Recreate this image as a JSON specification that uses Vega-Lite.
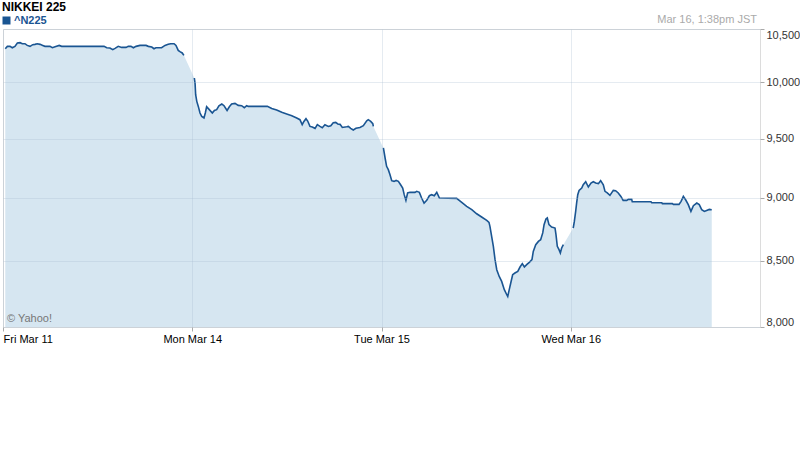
{
  "$schema": "https://vega.github.io/schema/vega-lite/v6.json",
  "autosize": "none",
  "padding": {"left": 3, "top": 29, "right": 40, "bottom": 148},
  "width": 757,
  "height": 298,
  "background": "white",
  "config": {
    "font": "Liberation Sans",
    "view": {"stroke": "#dcdcdc", "strokeWidth": 1}
  },
  "title": {
    "text": "NIKKEI 225",
    "anchor": "start",
    "frame": "group",
    "dx": -1,
    "offset": 0,
    "font": "Liberation Sans",
    "fontSize": 12,
    "fontWeight": "bold",
    "color": "#000000"
  },
  "data": {
    "values": [
      {"day": "Fri", "t": 0.012, "close": 10313},
      {"day": "Fri", "t": 0.023, "close": 10335},
      {"day": "Fri", "t": 0.037, "close": 10335},
      {"day": "Fri", "t": 0.049, "close": 10322},
      {"day": "Fri", "t": 0.063, "close": 10335},
      {"day": "Fri", "t": 0.076, "close": 10367},
      {"day": "Fri", "t": 0.090, "close": 10370},
      {"day": "Fri", "t": 0.102, "close": 10360},
      {"day": "Fri", "t": 0.116, "close": 10360},
      {"day": "Fri", "t": 0.128, "close": 10344},
      {"day": "Fri", "t": 0.143, "close": 10335},
      {"day": "Fri", "t": 0.157, "close": 10351},
      {"day": "Fri", "t": 0.169, "close": 10354},
      {"day": "Fri", "t": 0.181, "close": 10360},
      {"day": "Fri", "t": 0.196, "close": 10354},
      {"day": "Fri", "t": 0.210, "close": 10344},
      {"day": "Fri", "t": 0.222, "close": 10335},
      {"day": "Fri", "t": 0.248, "close": 10335},
      {"day": "Fri", "t": 0.261, "close": 10322},
      {"day": "Fri", "t": 0.275, "close": 10332},
      {"day": "Fri", "t": 0.297, "close": 10344},
      {"day": "Fri", "t": 0.310, "close": 10335},
      {"day": "Fri", "t": 0.534, "close": 10335},
      {"day": "Fri", "t": 0.548, "close": 10322},
      {"day": "Fri", "t": 0.565, "close": 10320},
      {"day": "Fri", "t": 0.580, "close": 10304},
      {"day": "Fri", "t": 0.592, "close": 10316},
      {"day": "Fri", "t": 0.609, "close": 10335},
      {"day": "Fri", "t": 0.627, "close": 10325},
      {"day": "Fri", "t": 0.650, "close": 10325},
      {"day": "Fri", "t": 0.662, "close": 10335},
      {"day": "Fri", "t": 0.676, "close": 10335},
      {"day": "Fri", "t": 0.689, "close": 10322},
      {"day": "Fri", "t": 0.703, "close": 10335},
      {"day": "Fri", "t": 0.724, "close": 10344},
      {"day": "Fri", "t": 0.756, "close": 10344},
      {"day": "Fri", "t": 0.768, "close": 10335},
      {"day": "Fri", "t": 0.786, "close": 10329},
      {"day": "Fri", "t": 0.798, "close": 10313},
      {"day": "Fri", "t": 0.808, "close": 10322},
      {"day": "Fri", "t": 0.838, "close": 10322},
      {"day": "Fri", "t": 0.856, "close": 10344},
      {"day": "Fri", "t": 0.873, "close": 10354},
      {"day": "Fri", "t": 0.886, "close": 10360},
      {"day": "Fri", "t": 0.904, "close": 10360},
      {"day": "Fri", "t": 0.914, "close": 10344},
      {"day": "Fri", "t": 0.926, "close": 10297},
      {"day": "Fri", "t": 0.935, "close": 10285},
      {"day": "Fri", "t": 0.947, "close": 10273},
      {"day": "Fri", "t": 0.956, "close": 10250},
      {"day": "Mon", "t": 1.011, "close": 10041},
      {"day": "Mon", "t": 1.015, "close": 9989},
      {"day": "Mon", "t": 1.018, "close": 9889},
      {"day": "Mon", "t": 1.024, "close": 9829},
      {"day": "Mon", "t": 1.032, "close": 9784},
      {"day": "Mon", "t": 1.041, "close": 9725},
      {"day": "Mon", "t": 1.050, "close": 9695},
      {"day": "Mon", "t": 1.062, "close": 9681},
      {"day": "Mon", "t": 1.069, "close": 9725},
      {"day": "Mon", "t": 1.076, "close": 9781},
      {"day": "Mon", "t": 1.090, "close": 9755},
      {"day": "Mon", "t": 1.106, "close": 9725},
      {"day": "Mon", "t": 1.117, "close": 9748},
      {"day": "Mon", "t": 1.129, "close": 9755},
      {"day": "Mon", "t": 1.141, "close": 9790},
      {"day": "Mon", "t": 1.156, "close": 9805},
      {"day": "Mon", "t": 1.168, "close": 9790},
      {"day": "Mon", "t": 1.184, "close": 9748},
      {"day": "Mon", "t": 1.196, "close": 9781},
      {"day": "Mon", "t": 1.208, "close": 9805},
      {"day": "Mon", "t": 1.226, "close": 9811},
      {"day": "Mon", "t": 1.243, "close": 9793},
      {"day": "Mon", "t": 1.261, "close": 9790},
      {"day": "Mon", "t": 1.275, "close": 9772},
      {"day": "Mon", "t": 1.288, "close": 9790},
      {"day": "Mon", "t": 1.296, "close": 9784},
      {"day": "Mon", "t": 1.397, "close": 9784},
      {"day": "Mon", "t": 1.420, "close": 9766},
      {"day": "Mon", "t": 1.446, "close": 9752},
      {"day": "Mon", "t": 1.473, "close": 9731},
      {"day": "Mon", "t": 1.499, "close": 9716},
      {"day": "Mon", "t": 1.526, "close": 9701},
      {"day": "Mon", "t": 1.552, "close": 9681},
      {"day": "Mon", "t": 1.569, "close": 9666},
      {"day": "Mon", "t": 1.581, "close": 9622},
      {"day": "Mon", "t": 1.590, "close": 9651},
      {"day": "Mon", "t": 1.601, "close": 9675},
      {"day": "Mon", "t": 1.610, "close": 9654},
      {"day": "Mon", "t": 1.622, "close": 9607},
      {"day": "Mon", "t": 1.634, "close": 9602},
      {"day": "Mon", "t": 1.649, "close": 9590},
      {"day": "Mon", "t": 1.661, "close": 9622},
      {"day": "Mon", "t": 1.675, "close": 9607},
      {"day": "Mon", "t": 1.687, "close": 9596},
      {"day": "Mon", "t": 1.701, "close": 9622},
      {"day": "Mon", "t": 1.719, "close": 9607},
      {"day": "Mon", "t": 1.732, "close": 9613},
      {"day": "Mon", "t": 1.745, "close": 9640},
      {"day": "Mon", "t": 1.758, "close": 9642},
      {"day": "Mon", "t": 1.769, "close": 9628},
      {"day": "Mon", "t": 1.781, "close": 9625},
      {"day": "Mon", "t": 1.793, "close": 9598},
      {"day": "Mon", "t": 1.816, "close": 9604},
      {"day": "Mon", "t": 1.825, "close": 9607},
      {"day": "Mon", "t": 1.837, "close": 9590},
      {"day": "Mon", "t": 1.851, "close": 9576},
      {"day": "Mon", "t": 1.865, "close": 9590},
      {"day": "Mon", "t": 1.886, "close": 9598},
      {"day": "Mon", "t": 1.904, "close": 9613},
      {"day": "Mon", "t": 1.922, "close": 9657},
      {"day": "Mon", "t": 1.930, "close": 9666},
      {"day": "Mon", "t": 1.943, "close": 9651},
      {"day": "Mon", "t": 1.954, "close": 9631},
      {"day": "Mon", "t": 1.957, "close": 9607},
      {"day": "Tue", "t": 2.010, "close": 9420},
      {"day": "Tue", "t": 2.019, "close": 9334},
      {"day": "Tue", "t": 2.027, "close": 9263},
      {"day": "Tue", "t": 2.036, "close": 9235},
      {"day": "Tue", "t": 2.045, "close": 9193},
      {"day": "Tue", "t": 2.054, "close": 9143},
      {"day": "Tue", "t": 2.066, "close": 9137},
      {"day": "Tue", "t": 2.077, "close": 9145},
      {"day": "Tue", "t": 2.089, "close": 9137},
      {"day": "Tue", "t": 2.101, "close": 9109},
      {"day": "Tue", "t": 2.112, "close": 9082},
      {"day": "Tue", "t": 2.120, "close": 9027},
      {"day": "Tue", "t": 2.129, "close": 8980},
      {"day": "Tue", "t": 2.138, "close": 9041},
      {"day": "Tue", "t": 2.151, "close": 9046},
      {"day": "Tue", "t": 2.177, "close": 9046},
      {"day": "Tue", "t": 2.186, "close": 9054},
      {"day": "Tue", "t": 2.200, "close": 9046},
      {"day": "Tue", "t": 2.212, "close": 8999},
      {"day": "Tue", "t": 2.225, "close": 8958},
      {"day": "Tue", "t": 2.239, "close": 8980},
      {"day": "Tue", "t": 2.253, "close": 9018},
      {"day": "Tue", "t": 2.265, "close": 9027},
      {"day": "Tue", "t": 2.279, "close": 9018},
      {"day": "Tue", "t": 2.292, "close": 9046},
      {"day": "Tue", "t": 2.306, "close": 8999},
      {"day": "Tue", "t": 2.397, "close": 8996},
      {"day": "Tue", "t": 2.424, "close": 8963},
      {"day": "Tue", "t": 2.450, "close": 8931},
      {"day": "Tue", "t": 2.477, "close": 8904},
      {"day": "Tue", "t": 2.503, "close": 8871},
      {"day": "Tue", "t": 2.529, "close": 8845},
      {"day": "Tue", "t": 2.556, "close": 8817},
      {"day": "Tue", "t": 2.568, "close": 8801},
      {"day": "Tue", "t": 2.573, "close": 8769},
      {"day": "Tue", "t": 2.582, "close": 8689},
      {"day": "Tue", "t": 2.591, "close": 8611},
      {"day": "Tue", "t": 2.600, "close": 8507},
      {"day": "Tue", "t": 2.609, "close": 8429},
      {"day": "Tue", "t": 2.622, "close": 8378},
      {"day": "Tue", "t": 2.635, "close": 8340},
      {"day": "Tue", "t": 2.649, "close": 8277},
      {"day": "Tue", "t": 2.662, "close": 8239},
      {"day": "Tue", "t": 2.667, "close": 8226},
      {"day": "Tue", "t": 2.675, "close": 8277},
      {"day": "Tue", "t": 2.683, "close": 8328},
      {"day": "Tue", "t": 2.693, "close": 8391},
      {"day": "Tue", "t": 2.705, "close": 8404},
      {"day": "Tue", "t": 2.720, "close": 8416},
      {"day": "Tue", "t": 2.732, "close": 8450},
      {"day": "Tue", "t": 2.744, "close": 8476},
      {"day": "Tue", "t": 2.755, "close": 8450},
      {"day": "Tue", "t": 2.767, "close": 8468},
      {"day": "Tue", "t": 2.781, "close": 8486},
      {"day": "Tue", "t": 2.795, "close": 8507},
      {"day": "Tue", "t": 2.802, "close": 8571},
      {"day": "Tue", "t": 2.815, "close": 8624},
      {"day": "Tue", "t": 2.829, "close": 8650},
      {"day": "Tue", "t": 2.841, "close": 8663},
      {"day": "Tue", "t": 2.852, "close": 8717},
      {"day": "Tue", "t": 2.859, "close": 8783},
      {"day": "Tue", "t": 2.869, "close": 8829},
      {"day": "Tue", "t": 2.876, "close": 8837},
      {"day": "Tue", "t": 2.885, "close": 8783},
      {"day": "Tue", "t": 2.899, "close": 8764},
      {"day": "Tue", "t": 2.917, "close": 8756},
      {"day": "Tue", "t": 2.922, "close": 8703},
      {"day": "Tue", "t": 2.929, "close": 8611},
      {"day": "Tue", "t": 2.938, "close": 8585},
      {"day": "Tue", "t": 2.945, "close": 8559},
      {"day": "Tue", "t": 2.952, "close": 8598},
      {"day": "Tue", "t": 2.961, "close": 8624},
      {"day": "Wed", "t": 3.013, "close": 8756},
      {"day": "Wed", "t": 3.019, "close": 8809},
      {"day": "Wed", "t": 3.026, "close": 8890},
      {"day": "Wed", "t": 3.031, "close": 8958},
      {"day": "Wed", "t": 3.037, "close": 9027},
      {"day": "Wed", "t": 3.044, "close": 9062},
      {"day": "Wed", "t": 3.058, "close": 9082},
      {"day": "Wed", "t": 3.066, "close": 9109},
      {"day": "Wed", "t": 3.079, "close": 9134},
      {"day": "Wed", "t": 3.093, "close": 9090},
      {"day": "Wed", "t": 3.107, "close": 9123},
      {"day": "Wed", "t": 3.119, "close": 9134},
      {"day": "Wed", "t": 3.132, "close": 9123},
      {"day": "Wed", "t": 3.146, "close": 9118},
      {"day": "Wed", "t": 3.158, "close": 9143},
      {"day": "Wed", "t": 3.172, "close": 9109},
      {"day": "Wed", "t": 3.181, "close": 9054},
      {"day": "Wed", "t": 3.193, "close": 9041},
      {"day": "Wed", "t": 3.207, "close": 9021},
      {"day": "Wed", "t": 3.225, "close": 9062},
      {"day": "Wed", "t": 3.237, "close": 9060},
      {"day": "Wed", "t": 3.251, "close": 9041},
      {"day": "Wed", "t": 3.265, "close": 9012},
      {"day": "Wed", "t": 3.277, "close": 8980},
      {"day": "Wed", "t": 3.296, "close": 8980},
      {"day": "Wed", "t": 3.304, "close": 8988},
      {"day": "Wed", "t": 3.322, "close": 8988},
      {"day": "Wed", "t": 3.325, "close": 8969},
      {"day": "Wed", "t": 3.424, "close": 8969},
      {"day": "Wed", "t": 3.428, "close": 8961},
      {"day": "Wed", "t": 3.481, "close": 8961},
      {"day": "Wed", "t": 3.484, "close": 8953},
      {"day": "Wed", "t": 3.537, "close": 8953},
      {"day": "Wed", "t": 3.542, "close": 8947},
      {"day": "Wed", "t": 3.572, "close": 8947},
      {"day": "Wed", "t": 3.583, "close": 8972},
      {"day": "Wed", "t": 3.595, "close": 9012},
      {"day": "Wed", "t": 3.607, "close": 8985},
      {"day": "Wed", "t": 3.621, "close": 8945},
      {"day": "Wed", "t": 3.635, "close": 8890},
      {"day": "Wed", "t": 3.648, "close": 8936},
      {"day": "Wed", "t": 3.666, "close": 8958},
      {"day": "Wed", "t": 3.679, "close": 8945},
      {"day": "Wed", "t": 3.692, "close": 8904},
      {"day": "Wed", "t": 3.706, "close": 8890},
      {"day": "Wed", "t": 3.718, "close": 8898},
      {"day": "Wed", "t": 3.732, "close": 8906},
      {"day": "Wed", "t": 3.745, "close": 8904}
    ]
  },
  "encoding": {
    "x": {
      "field": "t",
      "type": "quantitative",
      "scale": {"domain": [0, 4], "nice": false, "zero": false},
      "axis": {
        "orient": "bottom",
        "title": null,
        "values": [0, 1, 2, 3],
        "labelExpr": "['Fri Mar 11', 'Mon Mar 14', 'Tue Mar 15', 'Wed Mar 16'][datum.value]",
        "labelFlush": true,
        "labelFont": "Liberation Sans",
        "labelFontSize": 11,
        "labelColor": "#000000",
        "labelPadding": 2,
        "domain": false,
        "ticks": true,
        "tickSize": 4,
        "tickColor": "#aaaaaa",
        "grid": true,
        "gridColor": "#a8bdd0",
        "gridOpacity": 0.3,
        "zindex": 1
      }
    },
    "y": {
      "field": "close",
      "type": "quantitative",
      "scale": {"type": "log", "domain": [8000, 10500], "nice": false, "zero": false},
      "axis": {
        "orient": "right",
        "title": null,
        "values": [8000, 8500, 9000, 9500, 10000, 10500],
        "format": ",",
        "labelFlush": true,
        "labelFont": "Liberation Sans",
        "labelFontSize": 11,
        "labelColor": "#333333",
        "labelPadding": 2,
        "domain": false,
        "tickSize": 4,
        "tickColor": "#aaaaaa",
        "grid": true,
        "gridColor": "#a8bdd0",
        "gridOpacity": 0.3,
        "zindex": 1
      }
    }
  },
  "layer": [
    {
      "mark": {"type": "area", "color": "#d6e6f1", "opacity": 1},
      "encoding": {
        "y2": {"datum": 8000}
      }
    },
    {
      "mark": {"type": "line", "strokeWidth": 1.6},
      "encoding": {
        "detail": {"field": "day"},
        "color": {
          "datum": "^N225",
          "type": "nominal",
          "scale": {"range": ["#1a5592"]},
          "legend": {
            "title": null,
            "orient": "none",
            "legendX": -2,
            "legendY": -14,
            "padding": 0,
            "symbolType": "square",
            "symbolSize": 64,
            "symbolStrokeWidth": 0,
            "symbolFillColor": "#1a5592",
            "symbolOffset": 0,
            "labelFont": "Liberation Sans",
            "labelFontSize": 11,
            "labelFontWeight": "bold",
            "labelColor": "#1a5592",
            "labelOffset": 2
          }
        }
      }
    },
    {
      "data": {"values": [{"t": 4, "close": 10500, "label": "Mar 16, 1:38pm JST"}]},
      "mark": {"type": "text", "align": "right", "baseline": "alphabetic", "dx": -3, "dy": -6, "fontSize": 11, "color": "#aaaaaa", "font": "Liberation Sans"},
      "encoding": {
        "text": {"field": "label"}
      }
    },
    {
      "data": {"values": [{"t": 0, "close": 8000, "label": "© Yahoo!"}]},
      "mark": {"type": "text", "align": "left", "baseline": "alphabetic", "dx": 4, "dy": -5, "fontSize": 11, "color": "#777777", "font": "Liberation Sans"},
      "encoding": {
        "text": {"field": "label"}
      }
    }
  ]
}
